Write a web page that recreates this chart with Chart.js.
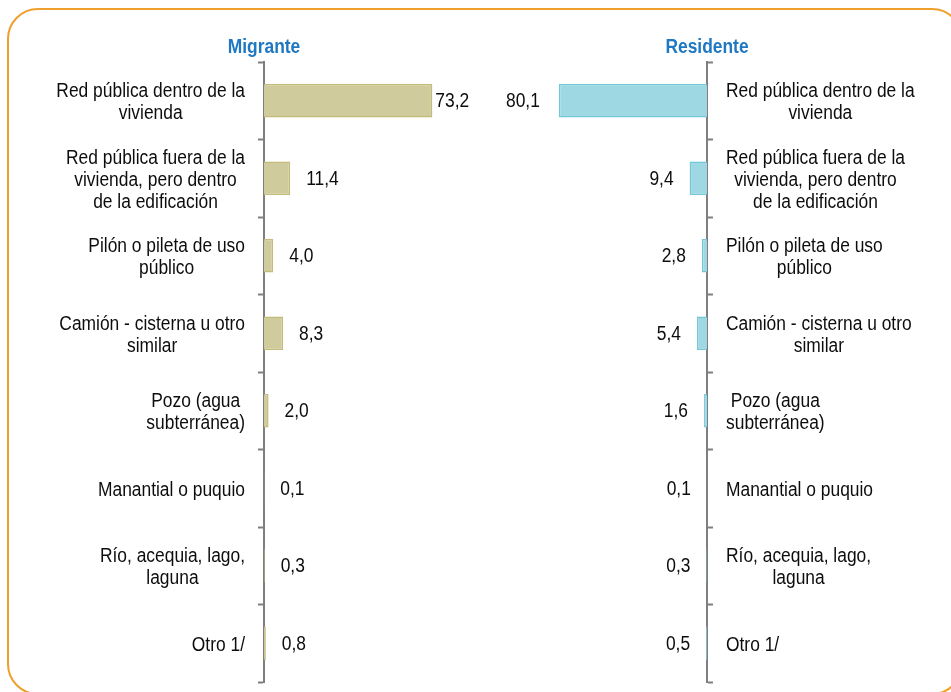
<!DOCTYPE html>
<html>
<head>
<meta charset="utf-8">
<script src="https://cdn.jsdelivr.net/npm/chart.js@4/dist/chart.umd.min.js"></script>
<style>
  html, body { margin: 0; padding: 0; background: #fff; width: 951px; height: 692px; overflow: hidden; }
  #frame { position: absolute; left: 7px; top: 8px; width: 956px; height: 687px; box-sizing: border-box;
           border: 2.5px solid #EF9F2C; border-radius: 31px; }
  .box { position: absolute; top: 10px; height: 680px; }
  #left { left: 10px; width: 490px; }
  #right { left: 500px; width: 450px; }
</style>
</head>
<body>
<div id="frame"></div>
<div class="box" id="left"><canvas id="chartMigrante"></canvas></div>
<div class="box" id="right"><canvas id="chartResidente"></canvas></div>
<script>
const categories = [
  ["Red pública dentro de la", "vivienda"],
  ["Red pública fuera de la", "vivienda, pero dentro", "de la edificación"],
  ["Pilón o pileta de uso", "público"],
  ["Camión - cisterna u otro", "similar"],
  ["Pozo (agua", "subterránea)"],
  ["Manantial o puquio"],
  ["Río, acequia, lago,", "laguna"],
  ["Otro 1/"],
];
const migrante = [73.2, 11.4, 4.0, 8.3, 2.0, 0.1, 0.3, 0.8];
const residente = [80.1, 9.4, 2.8, 5.4, 1.6, 0.1, 0.3, 0.5];

const FONT = "'Liberation Sans', Arial, sans-serif";
const NARROW = 0.87; // squeeze Liberation Sans to look like Arial Narrow
const AXIS_GREY = "#7F7F7F";

function narrowText(ctx, txt, x, y) {
  ctx.save();
  ctx.translate(x, y);
  ctx.scale(NARROW, 1);
  ctx.fillText(txt, 0, 0);
  ctx.restore();
}

// category labels, value labels and the title, placed next to the axis line
const sideLabels = {
  id: "sideLabels",
  afterDraw(chart, args, opts) {
    const ctx = chart.ctx;
    const yScale = chart.scales.y;
    const left = opts.side === "left";
    const axisX = left ? yScale.right : yScale.left;

    ctx.save();
    ctx.fillStyle = "#1F78C1";
    ctx.font = "bold 20px " + FONT;
    ctx.textAlign = "center";
    ctx.textBaseline = "middle";
    narrowText(ctx, opts.title, axisX, 37);

    ctx.fillStyle = "#0d0d0d";
    ctx.font = "20px " + FONT;
    const lineH = 22;
    chart.data.labels.forEach((lines, i) => {
      const w = NARROW * Math.max(...lines.map((l) => ctx.measureText(l).width));
      const cx = left ? axisX - 19 - w / 2 : axisX + 19 + w / 2;
      const cy = yScale.getPixelForValue(i) + 2;
      lines.forEach((l, k) => {
        narrowText(ctx, l, cx, cy + (k - (lines.length - 1) / 2) * lineH);
      });
    });

    const meta = chart.getDatasetMeta(0);
    const values = chart.data.datasets[0].data;
    ctx.textAlign = left ? "left" : "right";
    meta.data.forEach((bar, i) => {
      const off = values[i] > 50 ? opts.nearOffset : 16;
      const txt = values[i].toFixed(1).replace(".", ",");
      narrowText(ctx, txt, left ? bar.x + off : bar.x - off, bar.y + 1);
    });
    ctx.restore();
  },
};

function createChart(elementId, values, side, title, colors, padding, nearOffset) {
  const ctx = document.getElementById(elementId);
  return new Chart(ctx, {
    type: "bar",
    data: {
      labels: categories,
      datasets: [
        {
          data: values,
          backgroundColor: colors[0],
          borderColor: colors[1],
          borderWidth: 1.5,
          barPercentage: 0.43,
          categoryPercentage: 1,
        },
      ],
    },
    plugins: [sideLabels],
    options: {
      indexAxis: "y",
      responsive: true,
      maintainAspectRatio: false,
      devicePixelRatio: 1,
      animation: false,
      layout: { padding: padding },
      plugins: {
        legend: { display: false },
        tooltip: { enabled: false },
        sideLabels: { side: side, title: title, nearOffset: nearOffset },
      },
      scales: {
        x: { display: false, min: 0, max: 100, reverse: side === "right" },
        y: {
          position: side,
          grid: {
            offset: true,
            drawOnChartArea: false,
            tickLength: 6,
            tickWidth: 2,
            color: AXIS_GREY,
          },
          border: { display: true, color: AXIS_GREY, width: 2 },
          ticks: { display: false },
          afterFit: (s) => {
            s.width = 6;
          },
        },
      },
    },
  });
}

createChart("chartMigrante", migrante, "left", "Migrante",
  ["#D0CB9D", "#C4BB7A"], { left: 248, right: 6, top: 52, bottom: 8 }, 3);
createChart("chartResidente", residente, "right", "Residente",
  ["#9ED8E2", "#72C8D8"], { left: 22, right: 237, top: 52, bottom: 8 }, 19);
</script>
</body>
</html>
